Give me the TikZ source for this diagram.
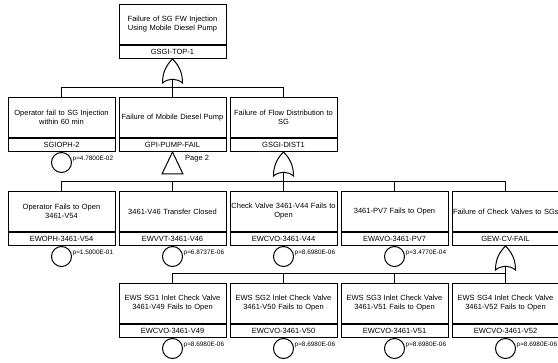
\documentclass[tikz,border=0pt]{standalone}
\usepackage{fontspec}
\setmainfont{Liberation Sans}
\tikzset{
  ln/.style={line width=1pt, line join=miter},
  desc/.style={ln, draw, anchor=north, minimum width=107pt, minimum height=40pt, text width=105pt, inner sep=1pt, align=center, font=\fontsize{7.5}{9}\selectfont},
  idb/.style={ln, draw, anchor=north, minimum width=107pt, minimum height=13pt, inner sep=0pt, font=\fontsize{7.5}{9}\selectfont},
  basic/.style={ln, draw, circle, anchor=north, minimum size=20pt, inner sep=0pt},
  plab/.style={anchor=west, inner sep=0pt, font=\fontsize{6.4}{7}\selectfont},
  conn/.style={ln},
  orgate/.pic={
    \draw[ln] (0,0) .. controls (-6,6) and (-10,13) .. (-10,24)
      .. controls (-4,19) and (4,19) .. (10,24)
      .. controls (10,13) and (6,6) .. (0,0) -- cycle;
    \coordinate (-in) at (0,20.25);
  }
}
\begin{document}
\begin{tikzpicture}[x=1pt,y=-1pt]
\useasboundingbox[fill=white] (0,0) rectangle (558,363);
% top event
\node[desc] (T) at (172.5,4) {Failure of SG FW Injection\\Using Mobile Diesel Pump};
\node[idb] (Tid) at (T.south) {GSGI-TOP-1};
\pic (g0) at (Tid.south) {orgate};
\coordinate (bus0) at (0,88);
% level 2
\node[desc] (A1) at (61.5,97) {Operator fail to SG Injection\\within 60 min};
\node[idb] (A1id) at (A1.south) {SGIOPH-2};
\node[basic] (A1c) at (A1id.south) {};
\node[plab] at ([xshift=11pt,yshift=4pt]A1c.center) {p=4.7800E-02};
\node[desc] (A2) at (172.5,97) {Failure of Mobile Diesel Pump};
\node[idb] (A2id) at (A2.south) {GPI-PUMP-FAIL};
\draw[ln] (A2id.south) -- ++(-10.5,22) -- ++(21,0) -- cycle;
\node[anchor=west, inner sep=0pt, font=\fontsize{7.5}{9}\selectfont] (pg) at ([xshift=12.5pt,yshift=-7pt]A2id.south) {Page 2};
\node[desc] (A3) at (283.5,97) {Failure of Flow Distribution to\\SG};
\node[idb] (A3id) at (A3.south) {GSGI-DIST1};
\pic (g1) at (A3id.south) {orgate};
\coordinate (bus1) at (0,182);
\foreach \c in {A1,A2,A3} \draw[conn] (g0-in) -- (g0-in |- bus0) -| (\c.north);
% level 3
\node[desc] (B1) at (61.5,191) {Operator Fails to Open\\3461-V54};
\node[idb] (B1id) at (B1.south) {EWOPH-3461-V54};
\node[basic] (B1c) at (B1id.south) {};
\node[plab] at ([xshift=11pt,yshift=4pt]B1c.center) {p=1.5000E-01};
\node[desc] (B2) at (172.5,191) {3461-V46 Transfer Closed};
\node[idb] (B2id) at (B2.south) {EWVVT-3461-V46};
\node[basic] (B2c) at (B2id.south) {};
\node[plab] at ([xshift=11pt,yshift=4pt]B2c.center) {p=6.8737E-06};
\node[desc] (B3) at (283.5,191) {Check Valve 3461-V44 Fails to\\Open};
\node[idb] (B3id) at (B3.south) {EWCVO-3461-V44};
\node[basic] (B3c) at (B3id.south) {};
\node[plab] at ([xshift=11pt,yshift=4pt]B3c.center) {p=8.6980E-06};
\node[desc] (B4) at (394.5,191) {3461-PV7 Fails to Open};
\node[idb] (B4id) at (B4.south) {EWAVO-3461-PV7};
\node[basic] (B4c) at (B4id.south) {};
\node[plab] at ([xshift=11pt,yshift=4pt]B4c.center) {p=3.4770E-04};
\node[desc] (B5) at (505.5,191) {\mbox{Failure of Check Valves to SGs}};
\node[idb] (B5id) at (B5.south) {GEW-CV-FAIL};
\pic (g2) at (B5id.south) {orgate};
\coordinate (bus2) at (0,274);
\foreach \c in {B1,B2,B3,B4,B5} \draw[conn] (g1-in) -- (g1-in |- bus1) -| (\c.north);
% level 4
\node[desc] (C1) at (172.5,283) {EWS SG1 Inlet Check Valve\\3461-V49 Fails to Open};
\node[idb] (C1id) at (C1.south) {EWCVO-3461-V49};
\node[basic] (C1c) at (C1id.south) {};
\node[plab] at ([xshift=11pt,yshift=4pt]C1c.center) {p=8.6980E-06};
\node[desc] (C2) at (283.5,283) {EWS SG2 Inlet Check Valve\\3461-V50 Fails to Open};
\node[idb] (C2id) at (C2.south) {EWCVO-3461-V50};
\node[basic] (C2c) at (C2id.south) {};
\node[plab] at ([xshift=11pt,yshift=4pt]C2c.center) {p=8.6980E-06};
\node[desc] (C3) at (394.5,283) {EWS SG3 Inlet Check Valve\\3461-V51 Fails to Open};
\node[idb] (C3id) at (C3.south) {EWCVO-3461-V51};
\node[basic] (C3c) at (C3id.south) {};
\node[plab] at ([xshift=11pt,yshift=4pt]C3c.center) {p=8.6980E-06};
\node[desc] (C4) at (505.5,283) {EWS SG4 Inlet Check Valve\\3461-V52 Fails to Open};
\node[idb] (C4id) at (C4.south) {EWCVO-3461-V52};
\node[basic] (C4c) at (C4id.south) {};
\node[plab] at ([xshift=11pt,yshift=4pt]C4c.center) {p=8.6980E-06};
\foreach \c in {C1,C2,C3,C4} \draw[conn] (g2-in) -- (g2-in |- bus2) -| (\c.north);
\end{tikzpicture}
\end{document}
